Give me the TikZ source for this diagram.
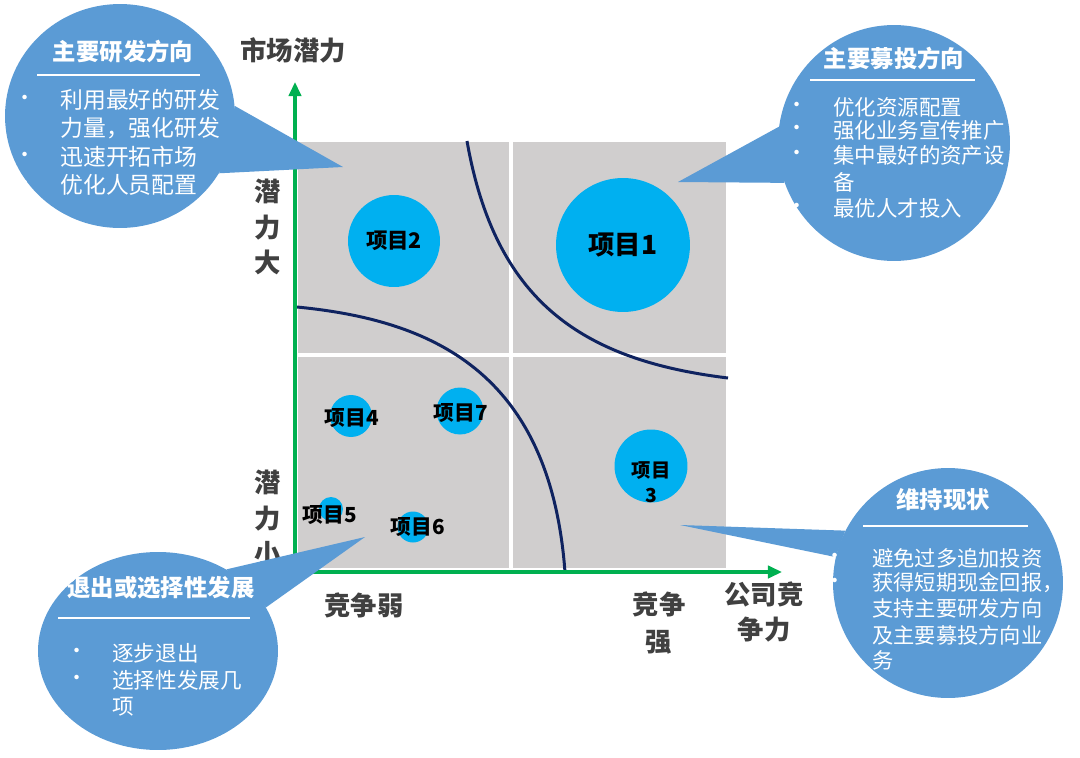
\documentclass[tikz,border=0pt]{standalone}
\usepackage{fontspec}
\setmainfont{Noto Sans CJK SC}
\usetikzlibrary{arrows.meta, shapes.geometric}

\definecolor{calloutblue}{HTML}{5B9BD5}
\definecolor{projcyan}{HTML}{00B0F0}
\definecolor{quadgray}{HTML}{D0CECE}
\definecolor{axisgreen}{HTML}{00B050}
\definecolor{curvenavy}{HTML}{0F2360}
\definecolor{labelgray}{HTML}{404040}

\begin{document}
\begin{tikzpicture}[
  x=0.02cm, y=-0.02cm,
  every node/.style={font=\fontsize{12}{14}\selectfont},
  quad/.style={fill=quadgray},
  axis/.style={draw=axisgreen, line width=1.8pt, -{Triangle[length=8pt,width=7pt]}},
  border/.style={draw=curvenavy, line width=1.7pt},
  axislabel/.style={font=\fontsize{15}{20}\selectfont\bfseries, text=labelgray, align=center, inner sep=0pt},
  proj/.style={circle, fill=projcyan, inner sep=0pt},
  plabel/.style={font=\fontsize{11.8}{14}\selectfont\bfseries, text=black, align=center, inner sep=0pt},
  callout/.style={ellipse, fill=calloutblue, inner sep=0pt},
  tail/.style={fill=calloutblue},
  ctitle/.style={font=\fontsize{13.3}{16}\selectfont\bfseries, text=white, inner sep=0pt},
  cbody/.style={anchor=west, text=white, inner sep=0pt},
  cdot/.style={text=white, inner sep=0pt},
  rule/.style={draw=white, line width=0.9pt}
]
\path[use as bounding box, fill=white] (0,0) rectangle (1080,758);

% === QUADRANTS ===
\fill[quad] (298,142) rectangle (509,353);
\fill[quad] (513,142) rectangle (726,353);
\fill[quad] (298,357) rectangle (509,568);
\fill[quad] (513,357) rectangle (726,568);

% === BOUNDARY CURVES ===
\draw[border] (467,141) .. controls (495,300) and (580,360) .. (728,378);
\draw[border] (297,307) .. controls (430,320) and (550,370) .. (565,572);

% === AXES ===
\coordinate (ybase) at (295,575);
\coordinate (ytop) at (295,82);
\coordinate (xbase) at (293,572);
\coordinate (xtop) at (782,572);
\draw[axis] (ybase) -- (ytop);
\draw[axis] (xbase) -- (xtop);

% === PROJECTS ===
\node[proj, minimum size=2.68cm, font=\fontsize{15}{18}\selectfont\bfseries] (p1) at (623,245) {项目1};
\node[proj, minimum size=1.84cm, font=\fontsize{12.2}{14}\selectfont\bfseries] (p2) at (394,241) {项目2};
\node[proj, minimum size=1.46cm] (p3) at (651,466) {};
\node[plabel, font=\fontsize{11}{14}\selectfont\bfseries] (p3t) at (651,482) {项目\\3};
\node[proj, minimum size=0.84cm] (p4) at (351,416) {};
\node[plabel] (p4t) at (352,418) {项目4};
\node[proj, minimum size=0.48cm] (p5) at (331,509) {};
\node[plabel] (p5t) at (330,515) {项目5};
\node[proj, minimum size=0.62cm] (p6) at (413,527) {};
\node[plabel] (p6t) at (418,527) {项目6};
\node[proj, minimum size=0.94cm] (p7) at (460,411) {};
\node[plabel] (p7t) at (461,413) {项目7};

% === AXIS LABELS ===
\node[axislabel] (ylab) at (293,50) {市场潜力};
\node[axislabel] (yhigh) at (268,227) {潜\\力\\大};
\node[axislabel] (ylow) at (268,518) {潜\\力\\小};
\node[axislabel] (xweak) at (364,605) {竞争弱};
\node[axislabel, font=\fontsize{15}{21}\selectfont\bfseries] (xstrong) at (659,623) {竞争\\强};
\node[axislabel] (xlab) at (764,612) {公司竞\\争力};

% === CALLOUT: TOP LEFT ===
\node[callout, minimum width=4.60cm, minimum height=4.48cm] (tl) at (120,116) {};
\coordinate (tlTip) at (343,167);
\fill[tail] (tl.5) -- (tlTip) -- (tl.-30) -- cycle;
\node[ctitle] (tlTitle) at (123,52) {主要研发方向};
\draw[rule] (37,75) -- (200,75);
\foreach \txt/\yy in {利用最好的研发/100, 力量，强化研发/128, 迅速开拓市场/157, 优化人员配置/185}
  \node[cbody, font=\fontsize{13}{15}\selectfont] (tl-\yy) at (60,\yy) {\txt};
\foreach \yy in {100,157,185}
  \node[cdot] (tldot-\yy) at (25,\yy) {•};

% === CALLOUT: TOP RIGHT ===
\node[callout, minimum width=4.64cm, minimum height=4.72cm] (tr) at (894,143) {};
\coordinate (trTip) at (678,182);
\fill[tail] (tr.172) -- (trTip) -- (tr.200) -- cycle;
\node[ctitle] (trTitle) at (894,58) {主要募投方向};
\draw[rule] (810,80) -- (975,80);
\foreach \txt/\yy in {优化资源配置/107, 强化业务宣传推广/130, 集中最好的资产设/155, 备/182, 最优人才投入/208}
  \node[cbody, font=\fontsize{12.2}{14}\selectfont] (tr-\yy) at (833,\yy) {\txt};
\foreach \yy in {107,130,155,208}
  \node[cdot] (trdot-\yy) at (797,\yy) {•};

% === CALLOUT: BOTTOM RIGHT ===
\node[callout, minimum width=4.60cm, minimum height=4.60cm] (br) at (948,583) {};
\coordinate (brTip) at (680,525);
\fill[tail] (br.153) -- (brTip) -- (br.167) -- cycle;
\node[ctitle] (brTitle) at (943,500) {维持现状};
\draw[rule] (863,526) -- (1028,526);
\foreach \txt/\yy in {避免过多追加投资/558, 获得短期现金回报，/583, 支持主要研发方向/608, 及主要募投方向业/635, 务/660}
  \node[cbody, font=\fontsize{12.1}{14}\selectfont] (br-\yy) at (872,\yy) {\txt};
\foreach \yy in {558,583}
  \node[cdot] (brdot-\yy) at (835,\yy) {•};

% === CALLOUT: BOTTOM LEFT ===
\node[callout, minimum width=4.80cm, minimum height=3.96cm] (bl) at (158,651) {};
\coordinate (blTip) at (365,537);
\fill[tail] (bl.50) -- (blTip) -- (bl.22) -- cycle;
\node[ctitle] (blTitle) at (161,588) {退出或选择性发展};
\draw[rule] (58,618) -- (250,618);
\foreach \txt/\yy in {逐步退出/653, 选择性发展几/680, 项/707}
  \node[cbody, font=\fontsize{12.3}{14}\selectfont] (bl-\yy) at (112,\yy) {\txt};
\foreach \yy in {653,680}
  \node[cdot] (bldot-\yy) at (77,\yy) {•};

\end{tikzpicture}
\end{document}
